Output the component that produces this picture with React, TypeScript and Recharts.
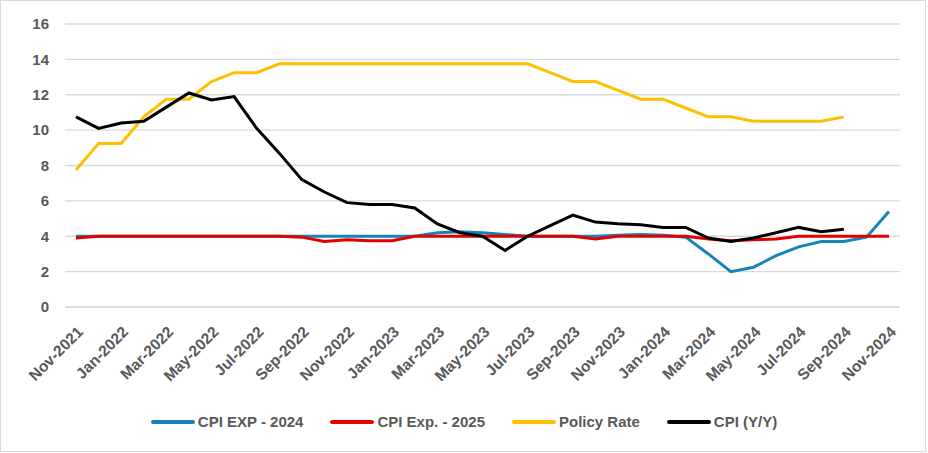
import React from "react";
import { LineChart, Line, XAxis, YAxis, CartesianGrid, Legend } from "recharts";

const months = [
  "Nov-2021", "Dec-2021", "Jan-2022", "Feb-2022", "Mar-2022", "Apr-2022", "May-2022",
  "Jun-2022", "Jul-2022", "Aug-2022", "Sep-2022", "Oct-2022", "Nov-2022", "Dec-2022",
  "Jan-2023", "Feb-2023", "Mar-2023", "Apr-2023", "May-2023", "Jun-2023", "Jul-2023",
  "Aug-2023", "Sep-2023", "Oct-2023", "Nov-2023", "Dec-2023", "Jan-2024", "Feb-2024",
  "Mar-2024", "Apr-2024", "May-2024", "Jun-2024", "Jul-2024", "Aug-2024", "Sep-2024",
  "Oct-2024", "Nov-2024",
];

const cpiExp2024 = [
  4.0, 4.0, 4.0, 4.0, 4.0, 4.0, 4.0, 4.0, 4.0, 4.0, 4.0, 4.0, 4.0, 4.0, 4.0, 4.0,
  4.2, 4.25, 4.2, 4.1, 4.0, 4.0, 4.0, 4.0, 4.05, 4.1, 4.05, 3.95,
  3.0, 2.0, 2.25, 2.9, 3.4, 3.7, 3.7, 3.95, 5.4,
];

const cpiExp2025 = [
  3.9, 4.0, 4.0, 4.0, 4.0, 4.0, 4.0, 4.0, 4.0, 4.0, 3.95, 3.7, 3.8, 3.75, 3.75, 4.0,
  4.0, 4.0, 4.0, 4.0, 4.0, 4.0, 4.0, 3.85, 4.0, 4.0, 4.0, 4.0,
  3.85, 3.75, 3.8, 3.85, 4.0, 4.0, 4.0, 4.0, 4.0,
];

const policyRate: (number | null)[] = [
  7.75, 9.25, 9.25, 10.75, 11.75, 11.75, 12.75, 13.25, 13.25, 13.75, 13.75, 13.75,
  13.75, 13.75, 13.75, 13.75, 13.75, 13.75, 13.75, 13.75, 13.75, 13.25, 12.75, 12.75,
  12.25, 11.75, 11.75, 11.25, 10.75, 10.75, 10.5, 10.5, 10.5, 10.5, 10.75, null, null,
];

const cpi: (number | null)[] = [
  10.75, 10.1, 10.4, 10.5, 11.3, 12.1, 11.7, 11.9, 10.1, 8.7, 7.2, 6.5, 5.9, 5.8,
  5.8, 5.6, 4.7, 4.2, 4.0, 3.2, 4.0, 4.6, 5.2, 4.8, 4.7, 4.65, 4.5, 4.5,
  3.9, 3.7, 3.9, 4.2, 4.5, 4.25, 4.4, null, null,
];

const yTicks = [0, 2, 4, 6, 8, 10, 12, 14, 16];

const seriesNames = ["CPI EXP - 2024", "CPI Exp. - 2025", "Policy Rate", "CPI (Y/Y)"];
const seriesColors = ["#1585B5", "#E20000", "#FFC000", "#000000"];

const data = months.map((m, i) => ({
  month: m,
  exp2024: cpiExp2024[i],
  exp2025: cpiExp2025[i],
  policy: policyRate[i],
  cpi: cpi[i],
}));

const FONT = "'Liberation Sans', Arial, sans-serif";
const TEXT = "#595959";

const XTick = (props: any) => {
  const { x, y, payload } = props;
  return (
    <g transform={`translate(${x + 8},${y + 26}) rotate(-45)`}>
      <text
        x={0}
        y={0}
        textAnchor="end"
        fill={TEXT}
        fontFamily={FONT}
        fontWeight="bold"
        fontSize={15.5}
      >
        {payload.value}
      </text>
    </g>
  );
};

const LegendContent = () => (
  <div
    style={{
      display: "flex",
      justifyContent: "center",
      alignItems: "center",
      gap: 27,
      fontFamily: FONT,
      fontWeight: "bold",
      fontSize: 15,
      color: TEXT,
    }}
  >
    {seriesNames.map((n, i) => (
      <div key={n} style={{ display: "flex", alignItems: "center" }}>
        <span
          style={{
            display: "inline-block",
            width: 44,
            height: 4,
            borderRadius: 2,
            background: seriesColors[i],
            marginRight: 3,
          }}
        />
        <span>{n}</span>
      </div>
    ))}
  </div>
);

export default function App() {
  return (
    <div style={{ position: "relative", width: 928, height: 453, background: "#fff" }}>
      <style>{"body{margin:0}"}</style>
      <div
        style={{
          position: "absolute",
          left: 0,
          top: 0,
          width: 926,
          height: 452,
          boxSizing: "border-box",
          border: "1px solid #d9d9d9",
        }}
      />
      <div style={{ position: "absolute", left: 0, top: 0 }}>
        <LineChart
          width={928}
          height={453}
          data={data}
          margin={{ top: 24, right: 28, left: 0, bottom: 0 }}
        >
          <CartesianGrid vertical={false} stroke="#d9d9d9" strokeWidth={1.3} />
          <XAxis
            dataKey="month"
            interval={1}
            height={146}
            padding={{ left: 11, right: 11 }}
            tickLine={false}
            axisLine={{ stroke: "#d9d9d9", strokeWidth: 1.3 }}
            tickSize={0}
            tickMargin={0}
            tick={<XTick />}
          />
          <YAxis
            width={65}
            domain={[0, 16]}
            ticks={yTicks}
            interval={0}
            tickLine={false}
            axisLine={false}
            tickSize={6}
            tickMargin={10}
            tick={{ fill: TEXT, fontFamily: FONT, fontWeight: "bold", fontSize: 15 }}
          />
          <Legend
            layout="horizontal"
            verticalAlign="middle"
            align="center"
            content={<LegendContent />}
            wrapperStyle={{ top: 413, left: 0, width: 928 }}
          />
          <Line type="linear" dataKey="exp2024" name={seriesNames[0]} stroke={seriesColors[0]} strokeWidth={3} dot={false} isAnimationActive={false} />
          <Line type="linear" dataKey="exp2025" name={seriesNames[1]} stroke={seriesColors[1]} strokeWidth={3} dot={false} isAnimationActive={false} />
          <Line type="linear" dataKey="policy" name={seriesNames[2]} stroke={seriesColors[2]} strokeWidth={3} dot={false} isAnimationActive={false} />
          <Line type="linear" dataKey="cpi" name={seriesNames[3]} stroke={seriesColors[3]} strokeWidth={3} dot={false} isAnimationActive={false} />
        </LineChart>
      </div>
    </div>
  );
}
